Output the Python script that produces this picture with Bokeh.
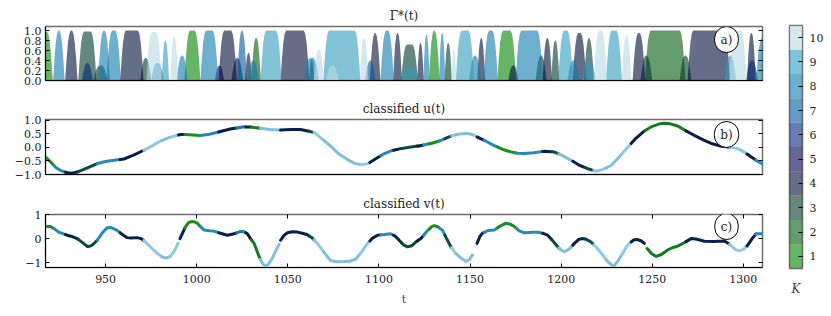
import numpy as np
from bokeh.plotting import figure
from bokeh.models import Range1d, LinearAxis, Label, FixedTicker
from bokeh.layouts import column, row
from bokeh.embed import file_html
from bokeh.resources import INLINE

# ---------------- data ----------------
clusters = [1, 2, 3, 4, 5, 6, 7, 8, 9, 10]
fill_palette = ["#008200", "#00580d", "#003726", "#000d37", "#000050",
                "#00267a", "#00589b", "#0d7aac", "#2f9bbc", "#b7d9e6"]
line_palette = ["#1a8c1a", "#167a20", "#0b4a3a", "#0a1e4a", "#141a5a",
                "#1a4a8a", "#1f78aa", "#2589b9", "#7ec0da", "#8ccae2"]
cb_labels = ["1", "2", "3", "4", "5", "6", "7", "8", "9", "10"]

x_ticks = [950, 1000, 1050, 1100, 1150, 1200, 1250, 1300]
ya_ticks = [0.0, 0.2, 0.4, 0.6, 0.8, 1.0]
ya_labels = ["0.0", "0.2", "0.4", "0.6", "0.8", "1.0"]
yb_ticks = [-1.0, -0.5, 0.0, 0.5, 1.0]
yb_labels = ["\u22121.0", "\u22120.5", "0.0", "0.5", "1.0"]
yc_ticks = [-1, 0, 1]
yc_labels = ["\u22121", "0", "1"]

# u(t) samples
t_u = [917, 920, 922.5, 925.5, 928.9, 931.5, 934.4, 940, 945.4, 950, 954.5, 960, 965, 971,
       976, 980, 985, 991, 996, 1002, 1007, 1013, 1019, 1026, 1030, 1035, 1040, 1046, 1052,
       1057, 1061, 1064.8, 1069, 1074, 1078, 1083, 1087, 1090.4, 1094, 1098, 1103, 1107, 1112,
       1117.5, 1122, 1128.5, 1134, 1139.5, 1144, 1147.8, 1150, 1152.3, 1153.8, 1158, 1163,
       1168, 1172.5, 1176, 1179.6, 1185, 1190.6, 1196, 1200, 1205.5, 1210, 1214.8, 1219, 1223,
       1227.4, 1232, 1236.6, 1241, 1245.7, 1250, 1254, 1256.7, 1260, 1264, 1268, 1273, 1278,
       1282.4, 1287, 1291.6, 1297, 1300.5, 1304.4, 1308, 1311]
u_vals = [-0.36, -0.55, -0.73, -0.86, -0.94, -0.95, -0.91, -0.76, -0.60, -0.52, -0.48, -0.43,
          -0.30, -0.11, 0.07, 0.23, 0.36, 0.47, 0.46, 0.43, 0.48, 0.58, 0.68, 0.75, 0.74, 0.70,
          0.65, 0.63, 0.65, 0.65, 0.60, 0.53, 0.30, 0.01, -0.25, -0.46, -0.60, -0.64, -0.60,
          -0.43, -0.23, -0.12, -0.05, 0.01, 0.05, 0.14, 0.25, 0.41, 0.49, 0.51, 0.49, 0.44, 0.38,
          0.25, 0.07, -0.08, -0.17, -0.22, -0.23, -0.20, -0.15, -0.17, -0.28, -0.48, -0.66,
          -0.79, -0.88, -0.81, -0.67, -0.35, 0.01, 0.33, 0.60, 0.77, 0.86, 0.88, 0.86, 0.78,
          0.62, 0.44, 0.27, 0.14, 0.05, 0.01, -0.05, -0.18, -0.36, -0.52, -0.63]
u_gaps = [(1152.3, 1153.8)]

# v(t) samples
t_v = [917, 919.7, 922, 924.3, 928.9, 931, 934.4, 937.5, 940.2, 942.5, 945.4, 948, 950.8, 953,
       956.3, 959, 961.8, 964, 967.3, 969.5, 971.9, 975, 978.3, 981, 983.3, 985.5, 987.5,
       989.7, 990.8, 993.9, 995.5, 997, 998.7, 1000.3, 1002, 1004, 1007, 1009.5, 1013, 1016.8,
       1020.5, 1024.2, 1026, 1027.8, 1029.5, 1031.5, 1034.2, 1036, 1037.9, 1039.5, 1041.5,
       1043.5, 1045.2, 1046, 1048, 1049.7, 1052.5, 1055.2, 1058, 1060.7, 1063.5, 1066.2, 1070,
       1073.5, 1077, 1080.8, 1084, 1087.3, 1090.5, 1093.7, 1096.5, 1099.2, 1103, 1106.5, 1109,
       1111.1, 1113.5, 1115.7, 1118, 1120.3, 1123, 1126.5, 1129, 1130.3, 1132.5, 1134.9, 1137,
       1139.5, 1142, 1145, 1147.8, 1149.5, 1151.4, 1153.8, 1155.5, 1156.9, 1160, 1163.3,
       1166.5, 1169.7, 1172, 1174.3, 1177, 1179.8, 1184, 1187.1, 1190, 1192.6, 1195.5, 1198.1,
       1200, 1201.8, 1204, 1207.3, 1209.5, 1211.3, 1213.5, 1216.4, 1219.5, 1222.8, 1225.5,
       1228.7, 1231, 1233.8, 1236, 1238.4, 1240, 1242, 1244, 1245.7, 1247.2, 1249.5, 1252.1,
       1255, 1258.5, 1261, 1264, 1268, 1271.3, 1274, 1278.6, 1284, 1289.6, 1293.2, 1295.5,
       1297.8, 1300, 1302.4, 1305, 1307, 1310.6]
v_vals = [0.50, 0.50, 0.40, 0.27, 0.14, 0.10, 0.0, -0.18, -0.34, -0.28, -0.07, 0.22, 0.45, 0.46,
          0.34, 0.18, 0.04, 0.02, 0.04, 0.0, -0.14, -0.38, -0.61, -0.76, -0.81, -0.74, -0.54,
          -0.20, 0.0, 0.50, 0.66, 0.70, 0.70, 0.64, 0.50, 0.36, 0.33, 0.31, 0.22, 0.14, 0.20,
          0.30, 0.28, 0.20, 0.0, -0.20, -0.74, -1.02, -1.15, -1.05, -0.81, -0.50, -0.24, -0.07,
          0.14, 0.24, 0.28, 0.27, 0.22, 0.16, 0.02, -0.20, -0.58, -0.92, -0.96, -0.95, -0.94,
          -0.85, -0.55, -0.20, 0.02, 0.14, 0.17, 0.20, 0.10, -0.07, -0.26, -0.34, -0.30, -0.14,
          0.0, 0.32, 0.50, 0.54, 0.48, 0.34, 0.02, -0.34, -0.60, -0.81, -0.95, -0.88, -0.68,
          -0.20, 0.10, 0.23, 0.34, 0.36, 0.52, 0.64, 0.60, 0.50, 0.32, 0.24, 0.26, 0.26, 0.22,
          0.14, -0.10, -0.34, -0.48, -0.54, -0.46, -0.20, -0.04, 0.0, -0.02, -0.14, -0.38, -0.68,
          -0.95, -1.15, -0.95, -0.61, -0.32, -0.14, -0.05, -0.04, -0.10, -0.20, -0.41, -0.62,
          -0.74, -0.66, -0.47, -0.38, -0.31, -0.15, 0.0, -0.02, -0.11, -0.12, -0.10, -0.27,
          -0.45, -0.51, -0.45, -0.27, 0.02, 0.20, 0.20]
v_gaps = [(989.7, 990.8), (1045.2, 1046.0), (1151.4, 1153.8), (1245.7, 1247.2)]

# classification of time intervals (start, end, cluster)
seg_start = [915, 921.5, 928, 935, 945.5, 958, 971, 981, 985.5, 990, 993.5, 1002, 1012, 1022,
             1027, 1030, 1035, 1046, 1061.7, 1064.4, 1069.6, 1089.7, 1095, 1101, 1108, 1112.4,
             1121.2, 1124.5, 1127.6, 1133.1, 1136.2, 1139.9, 1142.3, 1153, 1157.8, 1165.2,
             1175.2, 1189.9, 1194.8, 1198.7, 1206.4, 1213.2, 1217.9, 1225, 1233.3, 1238.4,
             1246.1, 1268.5, 1292.5, 1302, 1306.8]
seg_end = seg_start[1:] + [1315]
seg_cluster = [1, 8, 4, 3, 8, 4, 10, 9, 10, 4, 1, 8, 4, 7, 4, 2, 9, 4, 3, 10, 9, 10, 4, 8, 4,
               3, 4, 8, 1, 8, 3, 10, 9, 4, 8, 1, 8, 4, 3, 9, 4, 3, 10, 9, 10, 4, 2, 4, 10, 4, 8]

# affiliation bumps of Gamma*(t): cluster, start, end, height
bump_cluster = [1, 8, 4, 3, 8, 8, 4, 10, 9, 10, 1, 8, 4, 7, 4, 2, 9, 4, 3, 10, 9, 10, 4, 8, 4,
                3, 4, 8, 1, 8, 3, 10, 9, 4, 8, 1, 8, 4, 3, 9, 4, 3, 10, 9, 10, 4, 2, 4, 10, 4, 8,
                3, 3, 8, 8, 4, 8, 8, 10, 7, 9, 8, 4, 3, 8, 9, 3, 3, 9, 6, 5, 6]
bump_start = [914, 921.2, 927.8, 935.0, 945.8, 950.5, 958.0, 972.3, 980.8, 985.5, 993.2, 1002.0,
              1012.0, 1022.2, 1026.5, 1030.0, 1035.0, 1046.0, 1061.6, 1064.2, 1069.5, 1089.5,
              1095.0, 1100.8, 1107.8, 1112.2, 1121.0, 1124.4, 1127.4, 1133.0, 1136.0, 1139.8,
              1142.2, 1154.0, 1157.4, 1165.0, 1175.0, 1189.8, 1194.6, 1198.4, 1206.3, 1212.6,
              1217.8, 1224.6, 1233.2, 1239.2, 1246.0, 1269.4, 1292.4, 1302.0, 1307.0,
              943.5, 969.0, 975.0, 989.0, 1019.0, 1028.0, 1059.0, 1071.0, 1092.5, 1112.0,
              1149.5, 1171.0, 1186.0, 1203.5, 1211.5, 1243.5, 1265.0, 1289.5, 1301.5, 1010.0,
              937.0]
bump_end = [921.0, 927.5, 934.6, 945.0, 952.5, 958.4, 970.8, 980.8, 984.8, 989.8, 1002.0,
            1011.8, 1022.0, 1027.5, 1030.3, 1035.2, 1046.6, 1061.8, 1064.6, 1069.8, 1089.8,
            1094.2, 1100.8, 1108.2, 1112.6, 1121.4, 1124.6, 1127.8, 1133.3, 1136.4, 1140.0,
            1142.5, 1152.2, 1158.3, 1165.3, 1175.3, 1190.0, 1195.0, 1199.0, 1206.5, 1213.8,
            1218.0, 1225.3, 1233.4, 1238.6, 1246.2, 1268.2, 1292.6, 1301.8, 1306.8, 1314.0,
            951.0, 975.0, 982.0, 995.0, 1025.5, 1034.0, 1067.0, 1078.0, 1098.0, 1122.0,
            1156.0, 1176.5, 1192.0, 1210.0, 1219.0, 1250.0, 1271.5, 1296.0, 1308.0, 1015.0,
            943.0]
bump_height = [0.97, 1.0, 1.0, 0.98, 1.0, 1.0, 1.0, 0.97, 0.8, 0.87, 1.0, 1.0, 1.0, 1.0, 0.55,
               0.85, 1.0, 1.0, 0.42, 0.62, 1.0, 0.85, 0.95, 1.0, 0.95, 0.72, 0.75, 0.92, 1.0,
               0.95, 0.75, 0.6, 1.0, 0.85, 1.0, 1.0, 1.0, 0.85, 0.8, 1.0, 0.95, 0.85, 1.0, 1.0,
               0.9, 0.95, 1.0, 1.0, 1.0, 0.95, 0.85,
               0.3, 0.45, 0.35, 0.5, 0.45, 0.4, 0.45, 0.3, 0.4, 0.28, 0.5, 0.3, 0.5, 0.4, 0.4,
               0.5, 0.5, 0.5, 0.4, 0.3, 0.35]

# ---------------- helpers ----------------
FONT = "DejaVu Serif"
X0, X1 = 917, 1310.5
xr = Range1d(X0, X1)
LEFT, FW, RIGHT = 45, 717, 20


def line_pieces(ts, ys, gaps):
    ts = np.asarray(ts, float)
    ys = np.asarray(ys, float)
    out_x, out_y, out_c = [], [], []
    for s, e, k in zip(seg_start, seg_end, seg_cluster):
        parts = [(s, e)]
        for gs, ge in gaps:
            nxt = []
            for a, b in parts:
                if ge <= a or gs >= b:
                    nxt.append((a, b))
                else:
                    if gs > a:
                        nxt.append((a, gs))
                    if ge < b:
                        nxt.append((ge, b))
            parts = nxt
        for a, b in parts:
            a = max(a, ts[0])
            b = min(b, ts[-1])
            if b <= a:
                continue
            inner = ts[(ts > a) & (ts < b)]
            tt = np.concatenate([[a], inner, [b]])
            out_x.append(tt.tolist())
            out_y.append(np.interp(tt, ts, ys).tolist())
            out_c.append(line_palette[k - 1])
    return out_x, out_y, out_c


def style_axis(ax, ticks, labels, show_labels=True):
    ax.ticker = FixedTicker(ticks=ticks)
    if show_labels:
        ax.major_label_overrides = {t: l for t, l in zip(ticks, labels)}
    else:
        ax.major_label_overrides = {t: "" for t in ticks}
    ax.major_tick_in = 4
    ax.major_tick_out = 0
    ax.minor_tick_line_color = None
    ax.major_tick_line_color = "black"
    ax.major_label_text_font = FONT
    ax.major_label_text_font_size = "11px"
    ax.major_label_text_color = "#222222"
    ax.axis_line_color = "black"


def panel(height, top, bottom, yr, yticks, ylabels, xlabels, ttl):
    p = figure(width=LEFT + FW + RIGHT, height=height, x_range=xr, y_range=Range1d(*yr),
               min_border_left=LEFT, min_border_right=RIGHT, min_border_top=top,
               min_border_bottom=bottom, output_backend="svg", toolbar_location=None,
               title=ttl)
    p.title.align = "center"
    p.title.text_font = FONT
    p.title.text_font_size = "12px"
    p.title.text_font_style = "normal"
    p.title.text_color = "#222222"
    p.title.standoff = 7
    p.xgrid.visible = False
    p.ygrid.visible = False
    p.outline_line_color = "#6e6e6e"
    p.outline_line_width = 1.5
    style_axis(p.yaxis[0], yticks, ylabels)
    p.yaxis[0].major_label_standoff = 4
    ra = LinearAxis()
    style_axis(ra, yticks, ylabels, show_labels=False)
    ra.axis_line_color = None
    ra.major_label_standoff = 0
    p.add_layout(ra, "right")
    xa = p.xaxis[0]
    if xlabels:
        style_axis(xa, x_ticks, [str(t) for t in x_ticks])
        xa.major_label_standoff = 7
        xa.axis_label = "t"
        xa.axis_label_text_font = FONT
        xa.axis_label_text_font_size = "11px"
        xa.axis_label_text_font_style = "normal"
        xa.axis_label_standoff = 7
        ta = LinearAxis()
        style_axis(ta, x_ticks, [], show_labels=False)
        ta.axis_line_color = None
        ta.major_label_standoff = 0
        p.add_layout(ta, "above")
    else:
        style_axis(xa, [], [], show_labels=False)
        xa.major_label_standoff = 0
    return p


def tag(p, txt, y):
    p.add_layout(Label(x=681, y=y, x_units="screen", y_units="screen", text=txt,
                       text_align="center", text_baseline="middle", text_font=FONT,
                       text_font_size="12px", text_color="#222222", padding=6,
                       border_radius=13, background_fill_color="white",
                       border_line_color="black", border_line_width=1))


# ---------------- panel a ----------------
pa = panel(87, 26, 7, (0, 1.08), ya_ticks, ya_labels, False, "\u0393*(t)")
order = np.argsort(np.asarray(bump_cluster), kind="stable")
prof = [0.0, 0.42, 0.75, 0.93, 1.0]
fr = [0.0, 0.25, 0.5, 0.75, 1.0]
bx, by, bc = [], [], []
for i in order:
    s, e, h = bump_start[i], bump_end[i], bump_height[i]
    w = e - s
    r = min(3.0, 0.45 * w)
    xs = [s + f * r for f in fr] + [e - f * r for f in fr[::-1]]
    ys = [h * q for q in prof] + [h * q for q in prof[::-1]]
    bx.append(xs)
    by.append(ys)
    bc.append(fill_palette[bump_cluster[i] - 1])
pa.patches(bx, by, fill_color=bc, fill_alpha=0.6, line_color=None)
tag(pa, "a)", 41)

# ---------------- panel b ----------------
pb = panel(94, 32, 7, (-1.0, 1.02), yb_ticks, yb_labels, False, "classified u(t)")
ux, uy, uc = line_pieces(t_u, u_vals, u_gaps)
pb.multi_line(ux, uy, line_color=uc, line_width=3, line_cap="round")
tag(pb, "b)", 40)

# ---------------- panel c ----------------
pc = panel(127, 33, 40, (-1.2, 1.0), yc_ticks, yc_labels, True, "classified v(t)")
vx, vy, vc = line_pieces(t_v, v_vals, v_gaps)
pc.multi_line(vx, vy, line_color=vc, line_width=3, line_cap="round")
tag(pc, "c)", 41)

# ---------------- colour bar ----------------
cb = figure(width=45, height=308, x_range=Range1d(0, 1), y_range=Range1d(0.5, 10.5),
            min_border_left=7, min_border_right=25, min_border_top=25, min_border_bottom=40,
            y_axis_location="right", output_backend="svg", toolbar_location=None)
cb.xgrid.visible = False
cb.ygrid.visible = False
cb.quad(left=0, right=1, bottom=[k - 0.5 for k in clusters], top=[k + 0.5 for k in clusters],
        fill_color=fill_palette, fill_alpha=0.6, line_color=None)
cb.outline_line_color = "#6e6e6e"
cb.outline_line_width = 1.5
style_axis(cb.yaxis[0], clusters, cb_labels)
cb.yaxis[0].axis_line_color = None
cb.yaxis[0].major_label_standoff = 7
cbx = cb.xaxis[0]
cbx.ticker = FixedTicker(ticks=[])
cbx.axis_line_color = None
cbx.major_tick_line_color = None
cbx.minor_tick_line_color = None
cbx.major_label_standoff = 0
cbx.axis_label = "K"
cbx.axis_label_text_font = FONT
cbx.axis_label_text_font_size = "12px"
cbx.axis_label_text_font_style = "italic"
cbx.axis_label_standoff = 13

layout = row(column(pa, pb, pc, spacing=0), cb, spacing=0)
open("out.html", "w").write(file_html(layout, INLINE))
